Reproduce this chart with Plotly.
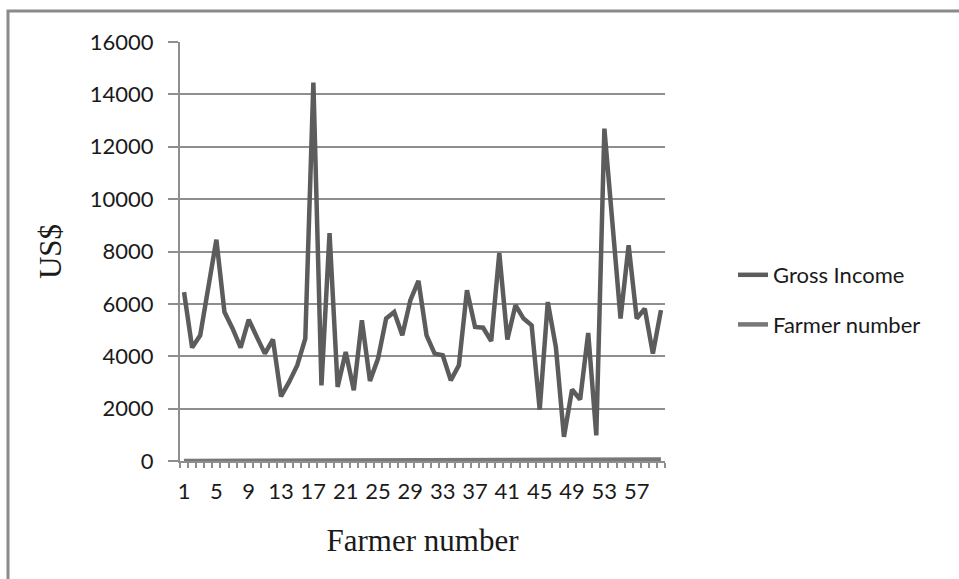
import plotly.graph_objects as go

farmer = list(range(1, 61))
gross_income = [6450, 4330, 4800, 6600, 8450, 5690, 5060, 4330, 5400, 4740,
                4100, 4640, 2470, 3020, 3650, 4670, 14450, 2890, 8700, 2830,
                4160, 2700, 5370, 3060, 3910, 5440, 5690, 4800, 6140, 6880,
                4800, 4100, 4040, 3080, 3650, 6520, 5120, 5090, 4580, 7940,
                4640, 5950, 5440, 5180, 1960, 6070, 4350, 920, 2730, 2350,
                4890, 980, 12690, 9070, 5440, 8240, 5440, 5820, 4100, 5760]
farmer_number = farmer[:]
x_tick_vals = list(range(1, 61, 4))
x_tick_text = [str(v) for v in x_tick_vals]
y_tick_vals = list(range(0, 16001, 2000))
y_tick_text = [str(v) for v in y_tick_vals]

W, H = 959, 579
L, R, T, B = 180, 294, 42, 118
pw, ph = W - L - R, H - T - B

def px(x):
    return (x - L) / pw

def py(y):
    return (H - B - y) / ph

grid = "#8e8e8e"
sans = "Lato, 'Open Sans', sans-serif"
serif = "'Liberation Serif', 'Times New Roman', serif"

fig = go.Figure()
fig.add_trace(go.Scatter(x=farmer, y=gross_income, mode="lines", name="Gross Income",
                         legendgroup="g1",
                         line=dict(color="#5c5c5c", width=4.5)))
fig.add_trace(go.Scatter(x=farmer, y=farmer_number, mode="lines", name="Farmer number",
                         legendgroup="g2",
                         line=dict(color="#787878", width=4.5)))

fig.update_layout(
    width=W, height=H,
    margin=dict(l=L, r=R, t=T, b=B),
    paper_bgcolor="white", plot_bgcolor="white",
    font=dict(family=sans, size=22, color="#1a1a1a"),
    showlegend=True,
    legend=dict(x=px(733), y=py(254), xanchor="left", yanchor="top",
                font=dict(family=sans, size=22, color="#1a1a1a"),
                tracegroupgap=18, itemwidth=30, bgcolor="rgba(0,0,0,0)"),
    xaxis=dict(range=[0.5, 60.5], tickmode="array", tickvals=x_tick_vals, ticktext=x_tick_text,
               ticks="", showgrid=False, zeroline=False, showline=True, linecolor=grid, linewidth=2,
               ticklabelstandoff=10,
               minor=dict(ticks="outside", tick0=0.5, dtick=1, ticklen=5, tickcolor=grid,
                          tickwidth=1.5, showgrid=False),
               title=dict(text="Farmer number", font=dict(family=serif, size=31, color="#1a1a1a"),
                          standoff=26)),
    yaxis=dict(range=[0, 16000], tickmode="array", tickvals=y_tick_vals, ticktext=y_tick_text,
               ticks="outside", ticklen=10, tickcolor=grid, tickwidth=1.5,
               showgrid=True, gridcolor=grid, gridwidth=1.5, zeroline=False,
               showline=True, linecolor=grid, linewidth=2, ticklabelstandoff=10,
               title=dict(text="US$", font=dict(family=serif, size=31, color="#1a1a1a"),
                          standoff=19)),
    shapes=[dict(type="rect", xref="paper", yref="paper",
                 x0=px(8), x1=px(975), y0=py(600), y1=py(11),
                 line=dict(color="#8a8a8a", width=3), fillcolor="rgba(0,0,0,0)", layer="below")],
)

fig.write_html("out.html")
